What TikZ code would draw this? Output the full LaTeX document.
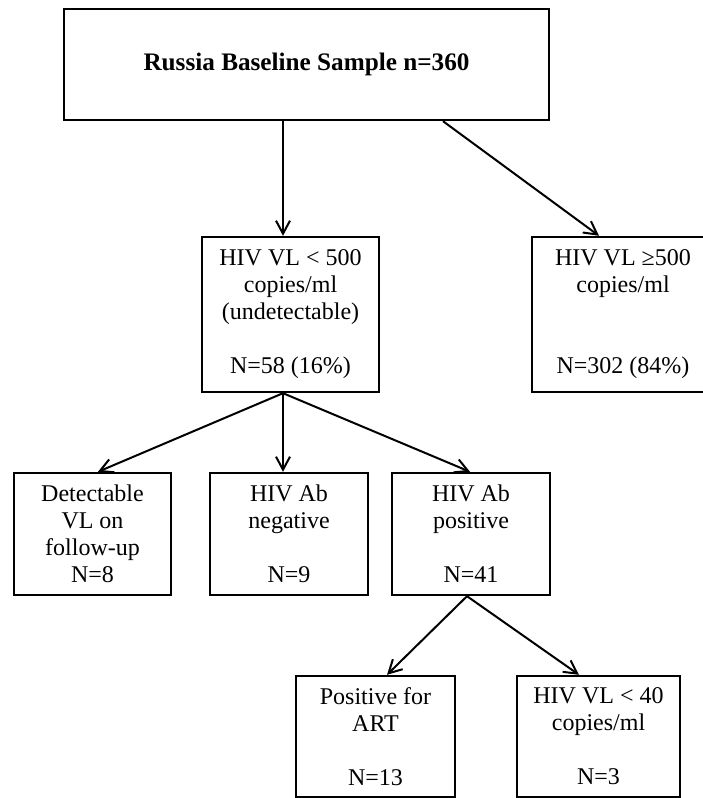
\documentclass[tikz,border=0pt]{standalone}
\usepackage{fontspec}
\setmainfont{Liberation Serif}
\usepackage{tikz}
\usetikzlibrary{arrows.meta}

\begin{document}
\begin{tikzpicture}[x=1pt, y=1pt,
    box/.style={draw, line width=1.2pt, align=center, inner sep=0pt,
        font=\fontsize{12}{13.5}\selectfont},
    arr/.style={line width=1pt, -{Straight Barb[length=6.5pt, width=7pt, line width=1pt]}}]
    \useasboundingbox (0, 0) rectangle (351, 399);

    \node[box, minimum width=242.5pt, minimum height=55.5pt,
        font=\fontsize{12.6}{14}\selectfont\bfseries] at (153.25, 366.75) (top) {Russia Baseline Sample n=360};

    \node[box, minimum width=88.5pt, minimum height=77.5pt] at (145.25, 241.75) (vlow) {HIV VL < 500\\copies/ml\\(undetectable)\\ \\N=58 (16\%)};
    \node[box, minimum width=91pt, minimum height=77.5pt] at (311.5, 241.75) (vhigh) {HIV VL ≥500\\copies/ml\\ \\ \\N=302 (84\%)};

    \node[box, minimum width=78.5pt, minimum height=61pt] at (46.25, 132) (detect) {Detectable\\VL on\\follow-up\\N=8};
    \node[box, minimum width=79pt, minimum height=61pt] at (144.5, 132) (abneg) {HIV Ab\\negative\\ \\N=9};
    \node[box, minimum width=79pt, minimum height=61pt] at (235.5, 132) (abpos) {HIV Ab\\positive\\ \\N=41};

    \node[box, minimum width=79.5pt, minimum height=60.5pt] at (187.75, 30.75) (art) {Positive for\\ART\\ \\N=13};
    \node[box, minimum width=81.5pt, minimum height=60.5pt] at (299.25, 30.75) (vl40) {HIV VL < 40\\copies/ml\\ \\N=3};

    \draw[arr] ([xshift=-11.75pt]top.south) -- ([xshift=-3.75pt]vlow.north);
    \draw[arr] ([xshift=68.25pt]top.south) -- ([xshift=-12pt]vhigh.north);
    \draw[arr] ([xshift=-3.75pt]vlow.south) -- ([xshift=2.75pt]detect.north);
    \draw[arr] ([xshift=-3.75pt]vlow.south) -- ([xshift=-3pt]abneg.north);
    \draw[arr] ([xshift=-3.75pt]vlow.south) -- ([xshift=-0.5pt]abpos.north);
    \draw[arr] ([xshift=-2pt]abpos.south) -- ([xshift=5.75pt]art.north);
    \draw[arr] ([xshift=-2pt]abpos.south) -- ([xshift=-9.75pt]vl40.north);
\end{tikzpicture}
\end{document}
